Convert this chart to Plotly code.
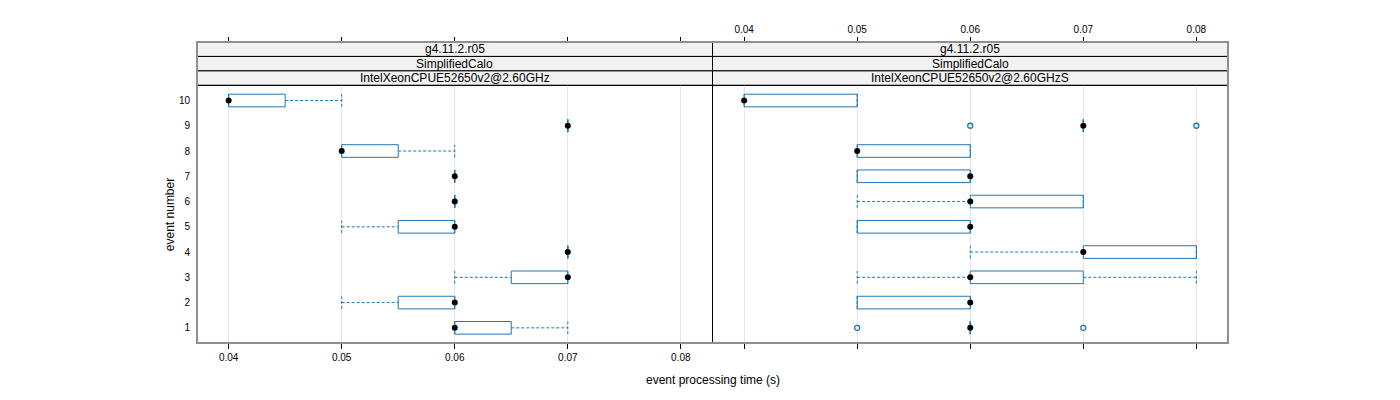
import plotly.graph_objects as go

# ─── Data ────────────────────────────────────────────────────────────────────

EVENTS = [1, 2, 3, 4, 5, 6, 7, 8, 9, 10]
STRIP_ROWS = ["g4.11.2.r05", "SimplifiedCalo"]
PANEL_CPU = ["IntelXeonCPUE52650v2@2.60GHz", "IntelXeonCPUE52650v2@2.60GHzS"]
X_TICKS = [0.04, 0.05, 0.06, 0.07, 0.08]
X_TICK_TEXT = ["0.04", "0.05", "0.06", "0.07", "0.08"]

# left panel: box stats per event
L_LO = [0.06, 0.05, 0.06, 0.07, 0.05, 0.06, 0.06, 0.05, 0.07, 0.04]
L_Q1 = [0.06, 0.055, 0.065, 0.07, 0.055, 0.06, 0.06, 0.05, 0.07, 0.04]
L_MED = [0.06, 0.06, 0.07, 0.07, 0.06, 0.06, 0.06, 0.05, 0.07, 0.04]
L_Q3 = [0.065, 0.06, 0.07, 0.07, 0.06, 0.06, 0.06, 0.055, 0.07, 0.045]
L_HI = [0.07, 0.06, 0.07, 0.07, 0.06, 0.06, 0.06, 0.06, 0.07, 0.05]
L_OUT = [[], [], [], [], [], [], [], [], [], []]

# right panel
R_LO = [0.06, 0.05, 0.05, 0.06, 0.05, 0.05, 0.05, 0.05, 0.07, 0.04]
R_Q1 = [0.06, 0.05, 0.06, 0.07, 0.05, 0.06, 0.05, 0.05, 0.07, 0.04]
R_MED = [0.06, 0.06, 0.06, 0.07, 0.06, 0.06, 0.06, 0.05, 0.07, 0.04]
R_Q3 = [0.06, 0.06, 0.07, 0.08, 0.06, 0.07, 0.06, 0.06, 0.07, 0.05]
R_HI = [0.06, 0.06, 0.08, 0.08, 0.06, 0.07, 0.06, 0.06, 0.07, 0.05]
R_OUT = [[0.05, 0.07], [], [], [], [], [], [], [], [0.06, 0.08], []]

# ─── Style ───────────────────────────────────────────────────────────────────

BOX_COL = "#1f78b4"
GRID_COL = "#e6e6e6"
STRIP_BG = "#f2f2f2"
FRAME_COL = "#8f8f8f"
FONT = "Liberation Sans, Arial, sans-serif"
HALF = 0.25
X_RANGE = [0.0372, 0.0828]
Y_RANGE = [0.4, 10.6]
PLOT_TOP = 0.856


def panel_traces(lo, q1, med, q3, hi, outs, xref):
    bx, by, wx, wy, cx, cy, ox, oy = [], [], [], [], [], [], [], []
    for e, a, b, m, c, d, o in zip(EVENTS, lo, q1, med, q3, hi, outs):
        bx += [b, c, c, b, b, None]
        by += [e - HALF, e - HALF, e + HALF, e + HALF, e - HALF, None]
        wx += [a, b, None, c, d, None]
        wy += [e, e, None, e, e, None]
        cx += [a, a, None, d, d, None]
        cy += [e - HALF, e + HALF, None, e - HALF, e + HALF, None]
        for v in o:
            ox.append(v)
            oy.append(e)
    common = dict(xaxis=xref, yaxis="y", hoverinfo="skip", showlegend=False)
    return [
        go.Scatter(x=wx, y=wy, mode="lines",
                   line=dict(color=BOX_COL, width=1, dash="3px,2px"), **common),
        go.Scatter(x=cx, y=cy, mode="lines",
                   line=dict(color=BOX_COL, width=1, dash="3px,2px"), **common),
        go.Scatter(x=bx, y=by, mode="lines",
                   line=dict(color=BOX_COL, width=1), **common),
        go.Scatter(x=ox, y=oy, mode="markers",
                   marker=dict(symbol="circle-open", size=5, color=BOX_COL,
                               line=dict(width=1.3, color=BOX_COL)), **common),
        go.Scatter(x=med, y=EVENTS, mode="markers",
                   marker=dict(size=6, color="black"), **common),
    ]


fig = go.Figure()
for t in panel_traces(L_LO, L_Q1, L_MED, L_Q3, L_HI, L_OUT, "x"):
    fig.add_trace(t)
for t in panel_traces(R_LO, R_Q1, R_MED, R_Q3, R_HI, R_OUT, "x2"):
    fig.add_trace(t)
# dummy traces so the top axes get drawn
for ax in ["x3", "x4"]:
    fig.add_trace(go.Scatter(x=[None], y=[None], xaxis=ax, yaxis="y",
                             hoverinfo="skip", showlegend=False))

xbase = dict(
    range=X_RANGE, tickvals=X_TICKS, ticktext=X_TICK_TEXT,
    ticks="outside", ticklen=5, tickwidth=1, tickcolor="black",
    showline=False, zeroline=False,
    tickfont=dict(size=10, color="black", family=FONT),
)

# page body has an 8px margin, so the margins are shifted by that
fig.update_layout(
    width=1400, height=400,
    margin=dict(l=189, r=180, t=34, b=65),
    paper_bgcolor="white", plot_bgcolor="white",
    font=dict(family=FONT, color="black"),
    showlegend=False,
    xaxis=dict(domain=[0, 0.5], anchor="y", showgrid=True, gridcolor=GRID_COL,
               **xbase),
    xaxis2=dict(domain=[0.5, 1], anchor="y", showgrid=True, gridcolor=GRID_COL,
                showticklabels=False, **xbase),
    xaxis3=dict(overlaying="x", side="top", anchor="free", position=1,
                showgrid=False, showticklabels=False, **xbase),
    xaxis4=dict(overlaying="x2", side="top", anchor="free", position=1,
                showgrid=False, **xbase),
    yaxis=dict(domain=[0, PLOT_TOP], range=Y_RANGE, tickvals=EVENTS,
               ticks="outside", ticklen=4, tickcolor="rgba(0,0,0,0)",
               showgrid=False, zeroline=False, showline=False,
               tickfont=dict(size=10, color="black", family=FONT)),
)

# strips
row_h = (1 - PLOT_TOP) / 3
shapes = []
annotations = []
for p, (x0, x1) in enumerate([(0, 0.5), (0.5, 1)]):
    labels = STRIP_ROWS + [PANEL_CPU[p]]
    for r, lab in enumerate(labels):
        y1 = 1 - r * row_h
        y0 = y1 - row_h
        shapes.append(dict(type="rect", xref="paper", yref="paper",
                           x0=x0, x1=x1, y0=y0, y1=y1, fillcolor=STRIP_BG,
                           line=dict(color="black", width=1), layer="below"))
        annotations.append(dict(text=lab, xref="paper", yref="paper",
                                x=(x0 + x1) / 2, y=(y0 + y1) / 2,
                                xanchor="center", yanchor="middle",
                                showarrow=False, font=dict(size=12, family=FONT)))

# panel divider and outer frame
shapes.append(dict(type="line", xref="paper", yref="paper", x0=0.5, x1=0.5,
                   y0=0, y1=1, line=dict(color="black", width=1)))
shapes.append(dict(type="line", xref="paper", yref="paper", x0=0, x1=1,
                   y0=PLOT_TOP, y1=PLOT_TOP, line=dict(color="black", width=1)))
shapes.append(dict(type="rect", xref="paper", yref="paper", x0=0, x1=1,
                   y0=0, y1=1, line=dict(color=FRAME_COL, width=2)))

annotations.append(dict(text="event processing time (s)", xref="paper",
                        yref="paper", x=0.5, y=-0.123, xanchor="center",
                        yanchor="middle", showarrow=False,
                        font=dict(size=12, family=FONT)))
annotations.append(dict(text="event number", xref="paper", yref="paper",
                        x=-0.0262, y=PLOT_TOP / 2, textangle=-90,
                        xanchor="center", yanchor="middle", showarrow=False,
                        font=dict(size=12, family=FONT)))

fig.update_layout(shapes=shapes, annotations=annotations)
fig.write_html("out.html")
